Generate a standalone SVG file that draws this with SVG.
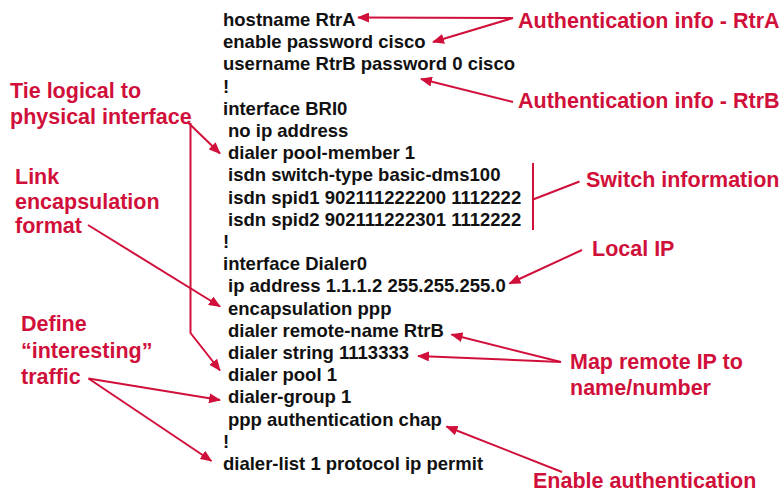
<svg xmlns="http://www.w3.org/2000/svg" width="781" height="493" viewBox="0 0 781 493">
<style>
.code{font-family:"Liberation Sans",Arial,sans-serif;font-weight:bold;font-size:18.5px;fill:#111}
.lbl{font-family:"Liberation Sans",Arial,sans-serif;font-weight:bold;font-size:21.5px;fill:#d0103a}
.c{stroke:#d0103a;stroke-width:2;fill:none}
.ca{stroke:#d0103a;stroke-width:2;fill:none;marker-end:url(#ah)}
</style>
<defs>
<marker id="ah" markerUnits="userSpaceOnUse" markerWidth="12" markerHeight="10" refX="11" refY="5" orient="auto">
<path d="M0,0 L12,5 L0,10 z" fill="#d0103a"/>
</marker>
</defs>
<rect width="781" height="493" fill="#fff"/>
<g id="config">
<text class="code" x="223" y="26">hostname RtrA</text>
<text class="code" x="223" y="48.2">enable password cisco</text>
<text class="code" x="223" y="70.4">username RtrB password 0 cisco</text>
<text class="code" x="223" y="92.6">!</text>
<text class="code" x="223" y="114.8">interface BRI0</text>
<text class="code" x="228" y="137">no ip address</text>
<text class="code" x="228" y="159.2">dialer pool-member 1</text>
<text class="code" x="228" y="181.4">isdn switch-type basic-dms100</text>
<text class="code" x="228" y="203.6">isdn spid1 902111222200 1112222</text>
<text class="code" x="228" y="225.8">isdn spid2 902111222301 1112222</text>
<text class="code" x="223" y="248">!</text>
<text class="code" x="223" y="270.2">interface Dialer0</text>
<text class="code" x="228" y="292.4">ip address 1.1.1.2 255.255.255.0</text>
<text class="code" x="228" y="314.6">encapsulation ppp</text>
<text class="code" x="228" y="336.8">dialer remote-name RtrB</text>
<text class="code" x="228" y="359">dialer string 1113333</text>
<text class="code" x="228" y="381.2">dialer pool 1</text>
<text class="code" x="228" y="403.4">dialer-group 1</text>
<text class="code" x="228" y="425.6">ppp authentication chap</text>
<text class="code" x="223" y="447.8">!</text>
<text class="code" x="223" y="470">dialer-list 1 protocol ip permit</text>
</g>
<g id="auth-rtra"><text class="lbl" x="518" y="28">Authentication info - RtrA</text></g>
<g id="auth-rtrb"><text class="lbl" x="518" y="107.5">Authentication info - RtrB</text></g>
<g id="tie-logical"><text class="lbl" x="10" y="98">Tie logical to</text><text class="lbl" x="10" y="124">physical interface</text></g>
<g id="switch-info"><text class="lbl" x="586" y="187">Switch information</text></g>
<g id="link-encap"><text class="lbl" x="15" y="184">Link</text><text class="lbl" x="15" y="209">encapsulation</text><text class="lbl" x="15" y="233">format</text></g>
<g id="local-ip"><text class="lbl" x="592" y="256">Local IP</text></g>
<g id="define-traffic"><text class="lbl" x="21" y="331">Define</text><text class="lbl" x="21" y="358">“interesting”</text><text class="lbl" x="21" y="383.5">traffic</text></g>
<g id="map-remote"><text class="lbl" x="570" y="369">Map remote IP to</text><text class="lbl" x="570" y="395">name/number</text></g>
<g id="enable-auth"><text class="lbl" x="533" y="488">Enable authentication</text></g>
<g id="connectors">
<line class="ca" x1="513" y1="18" x2="358" y2="17.5"/>
<line class="ca" x1="513" y1="18" x2="433" y2="42"/>
<line class="ca" x1="513" y1="102" x2="421" y2="79"/>
<line class="ca" x1="188" y1="122.5" x2="220" y2="153.5"/>
<polyline class="ca" points="190.5,123 190.5,333 220,370.5"/>
<line class="c" x1="533" y1="163" x2="533" y2="230"/>
<line class="c" x1="533" y1="199.5" x2="579.5" y2="181.5"/>
<line class="ca" x1="88" y1="225" x2="220" y2="306.5"/>
<line class="ca" x1="582" y1="250" x2="509.5" y2="283.5"/>
<line class="ca" x1="561" y1="362" x2="451.5" y2="334.5"/>
<line class="ca" x1="561" y1="362" x2="418" y2="356"/>
<line class="ca" x1="88.5" y1="378.5" x2="220" y2="400"/>
<line class="ca" x1="88.5" y1="378.5" x2="211.5" y2="461"/>
<line class="ca" x1="562" y1="472" x2="446.5" y2="426.5"/>
</g>
</svg>
